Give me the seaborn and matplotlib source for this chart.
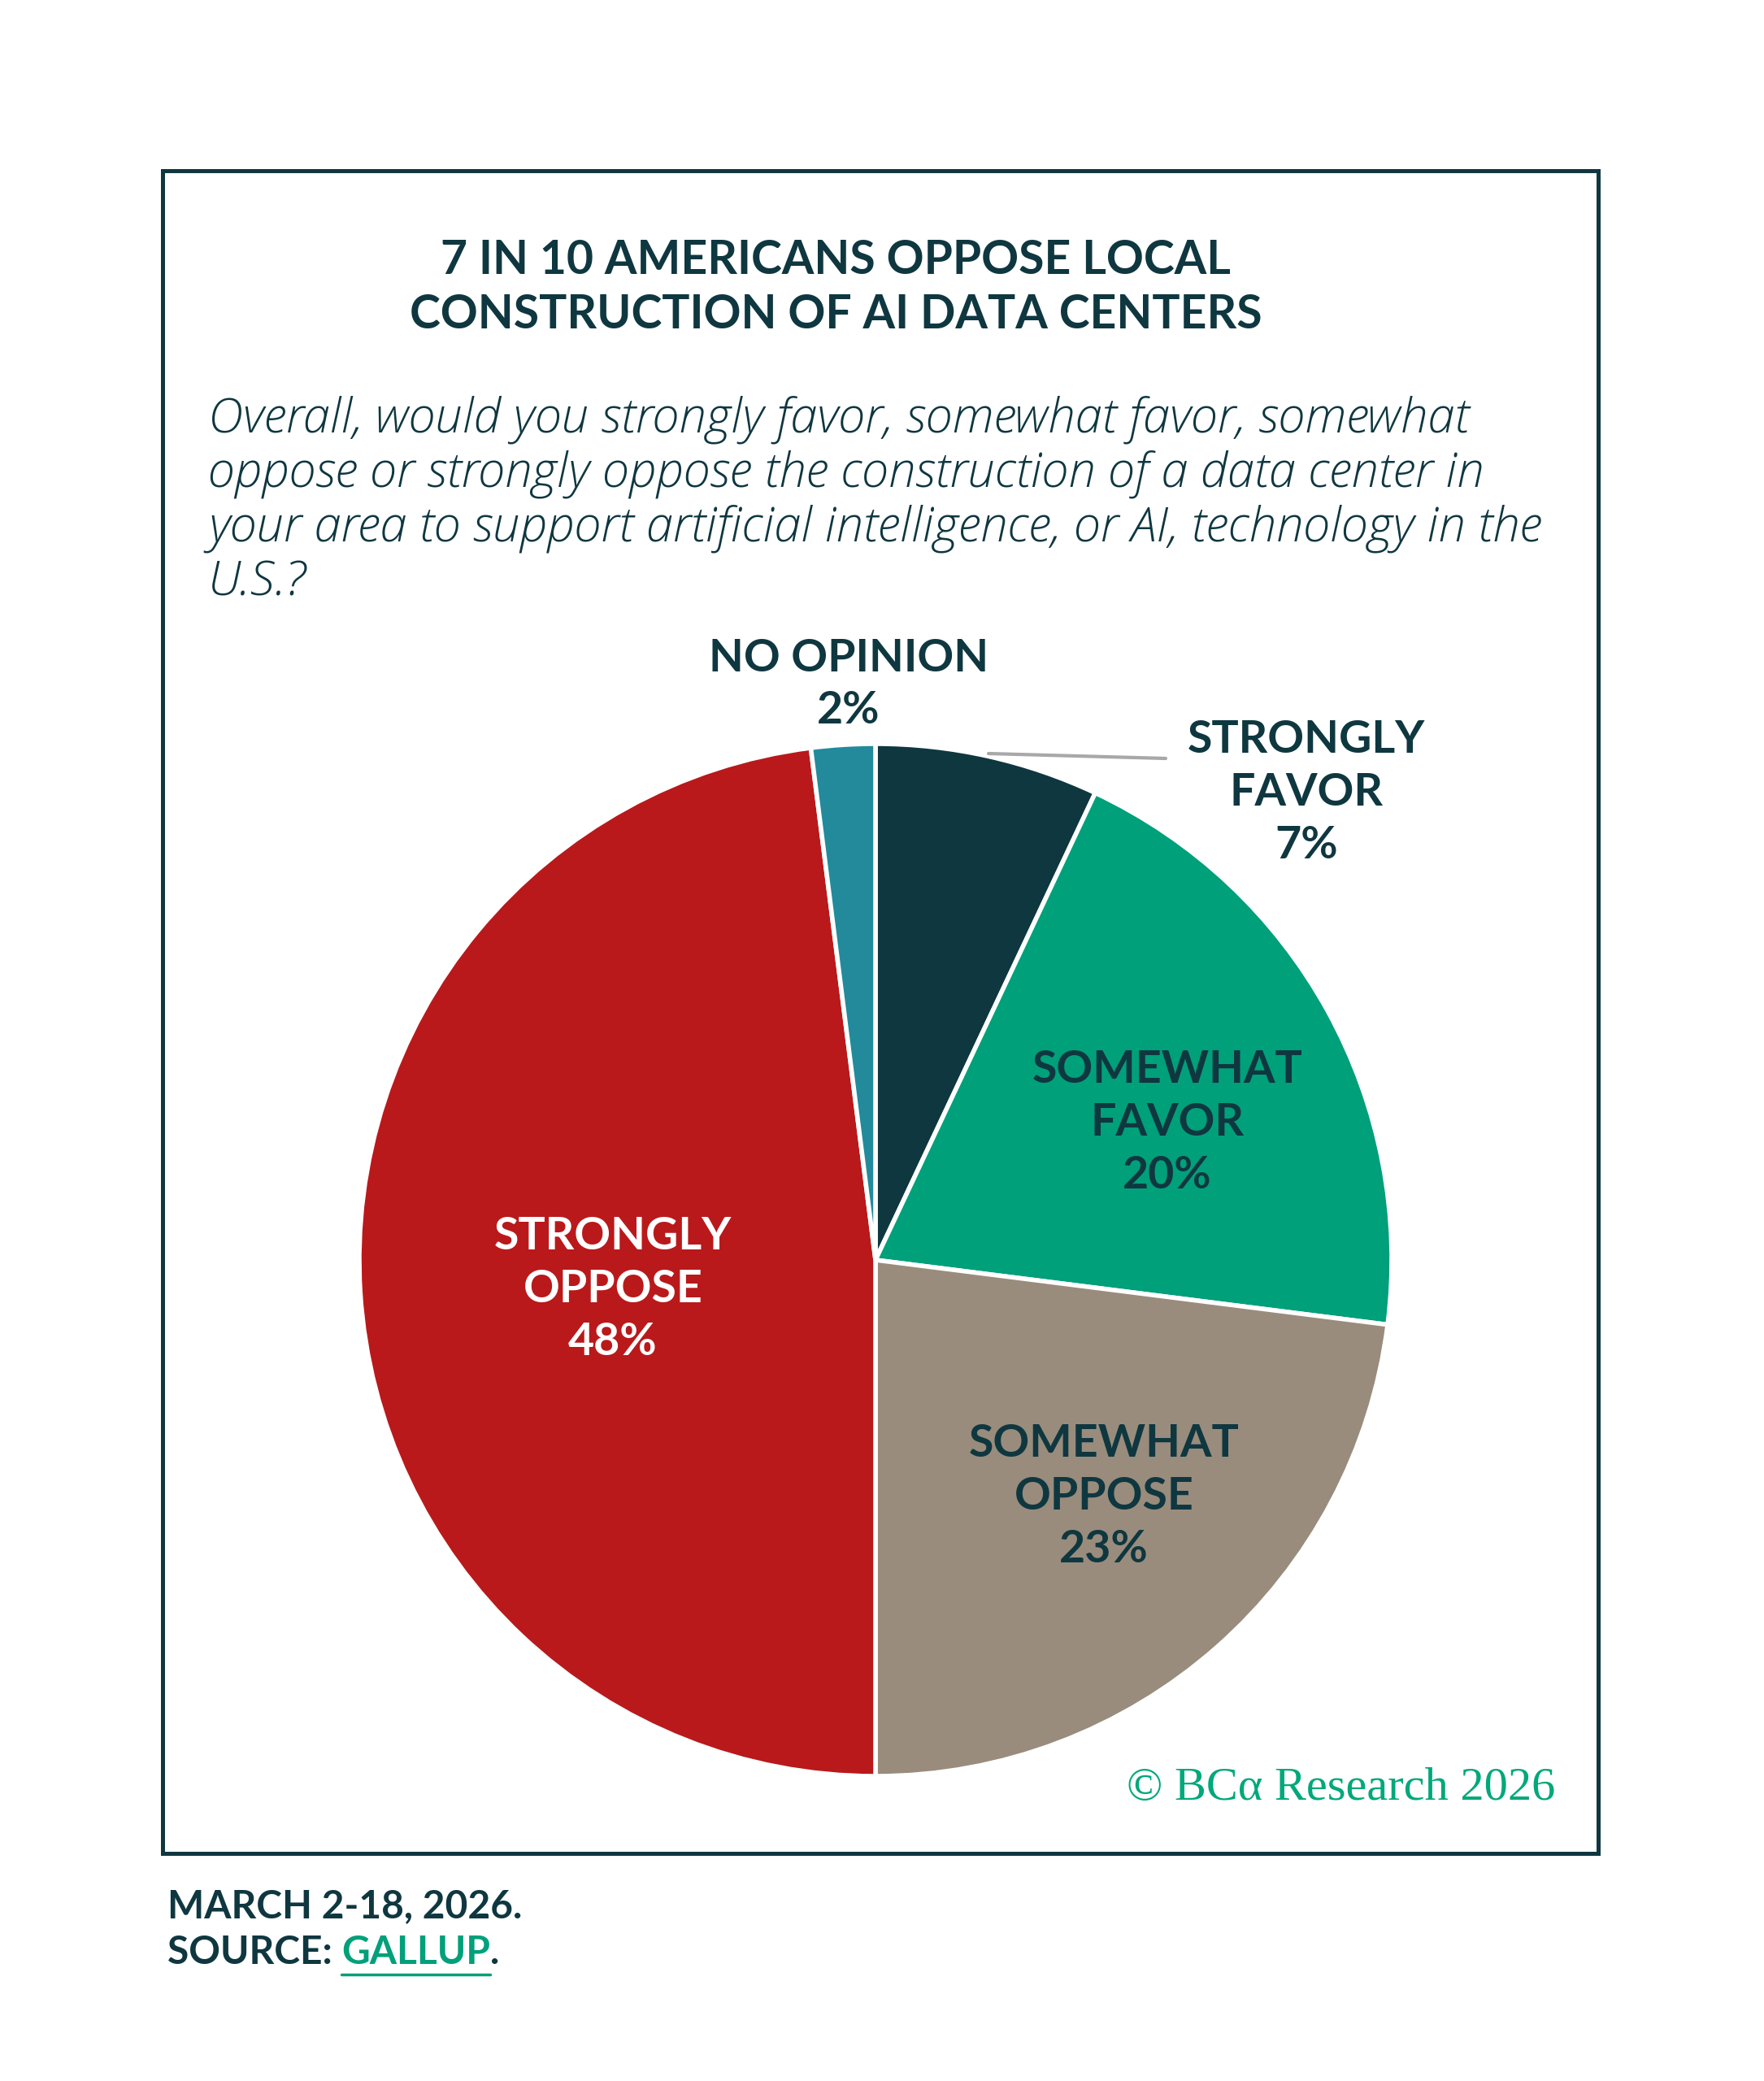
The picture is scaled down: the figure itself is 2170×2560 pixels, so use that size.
import matplotlib
matplotlib.use("Agg")
import matplotlib.pyplot as plt
from matplotlib.patches import Rectangle
import seaborn as sns

sns.set_theme(style="white")
plt.rcParams['font.family'] = ['Lato', 'DejaVu Sans']

# ---- data ----
categories = ["STRONGLY\nFAVOR", "SOMEWHAT\nFAVOR", "SOMEWHAT\nOPPOSE", "STRONGLY\nOPPOSE", "NO OPINION"]
values = [7, 20, 23, 48, 2]
colors = ["#0f3740", "#00a07a", "#998c7c", "#b9191b", "#228a9b"]
label_colors = ["#0f3740", "#0f3740", "#0f3740", "#ffffff", "#0f3740"]

title = "7 IN 10 AMERICANS OPPOSE LOCAL\nCONSTRUCTION OF AI DATA CENTERS"
subtitle_lines = [
    "Overall, would you strongly favor, somewhat favor, somewhat",
    "oppose or strongly oppose the construction of a data center in",
    "your area to support artificial intelligence, or AI, technology in the",
    "U.S.?",
]
note = "MARCH 2-18, 2026."
source_label = "SOURCE: "
source_link = "GALLUP"
copyright_text = "\u00a9 BC\u03b1 Research 2026"

DARK = "#0f3740"
GREEN = "#00a07a"

W, H = 2170, 2560
fig = plt.figure(figsize=(W / 100, H / 100), dpi=100)
fig.patch.set_facecolor("white")

def fx(px):
    return px / W

def fy(py):
    return 1 - py / H

# frame
fig.patches.append(Rectangle((fx(200), fy(2280)), fx(1966) - fx(200), fy(210) - fy(2280),
                             transform=fig.transFigure, fill=False, edgecolor=DARK,
                             linewidth=3.6, zorder=1))

# title
fig.text(fx(1028), fy(354), title, ha="center", va="center", fontsize=41,
         fontweight="bold", color=DARK, linespacing=1.32)

# subtitle
for i, line in enumerate(subtitle_lines):
    fig.text(fx(256), fy(516 + i * 67), line, ha="left", va="center", fontsize=43,
             fontstyle="italic", fontweight="light", color=DARK,
             family=["Open Sans", "DejaVu Sans"])

# pie
cx, cy, R = 1077, 1550, 635
ax = fig.add_axes([fx(cx - R), fy(cy + R), fx(2 * R), fy(cy - R) - fy(cy + R)])
wedges, _ = ax.pie(values, colors=colors, startangle=90, counterclock=False,
                   radius=1.0, wedgeprops=dict(edgecolor="white", linewidth=4))
ax.set_xlim(-1, 1)
ax.set_ylim(-1, 1)
ax.set_aspect("equal")
ax.axis("off")

# labels (figure pixel positions)
label_pos = [(1607, 975), (1436, 1381), (1358, 1841), (754, 1586), (1044, 842)]
for cat, v, (px, py), c in zip(categories, values, label_pos, label_colors):
    fig.text(fx(px), fy(py), f"{cat}\n{v}%", ha="center", va="center", fontsize=40,
             fontweight="bold", color=c, linespacing=1.36)

# leader line for strongly favor
fig.add_artist(plt.Line2D([fx(1216), fx(1434)], [fy(927), fy(933)],
                          transform=fig.transFigure, color="#a8a8a8", linewidth=3))

# copyright
fig.text(fx(1913), fy(2200), copyright_text, ha="right", va="center", fontsize=42,
         family=["Liberation Serif", "DejaVu Serif"], color="#00a87a")

# footer
FS = 34.5
fig.text(fx(206), fy(2345), note, ha="left", va="center", fontsize=FS,
         fontweight="bold", color=DARK)
t = fig.text(fx(206), fy(2402), source_label, ha="left", va="center", fontsize=FS,
             fontweight="bold", color=DARK)
fig.canvas.draw()
bb = t.get_window_extent()
t2 = fig.text(bb.x1 / W, fy(2402), source_link, ha="left", va="center", fontsize=FS,
              fontweight="bold", color=GREEN)
fig.canvas.draw()
bb2 = t2.get_window_extent()
fig.text(bb2.x1 / W, fy(2402), ".", ha="left", va="center", fontsize=FS,
         fontweight="bold", color=DARK)
fig.add_artist(plt.Line2D([bb2.x0 / W, bb2.x1 / W], [bb2.y0 / H - 0.002, bb2.y0 / H - 0.002],
                          transform=fig.transFigure, color=GREEN, linewidth=2.5))

fig.savefig("out.png", dpi=100, facecolor="white")
